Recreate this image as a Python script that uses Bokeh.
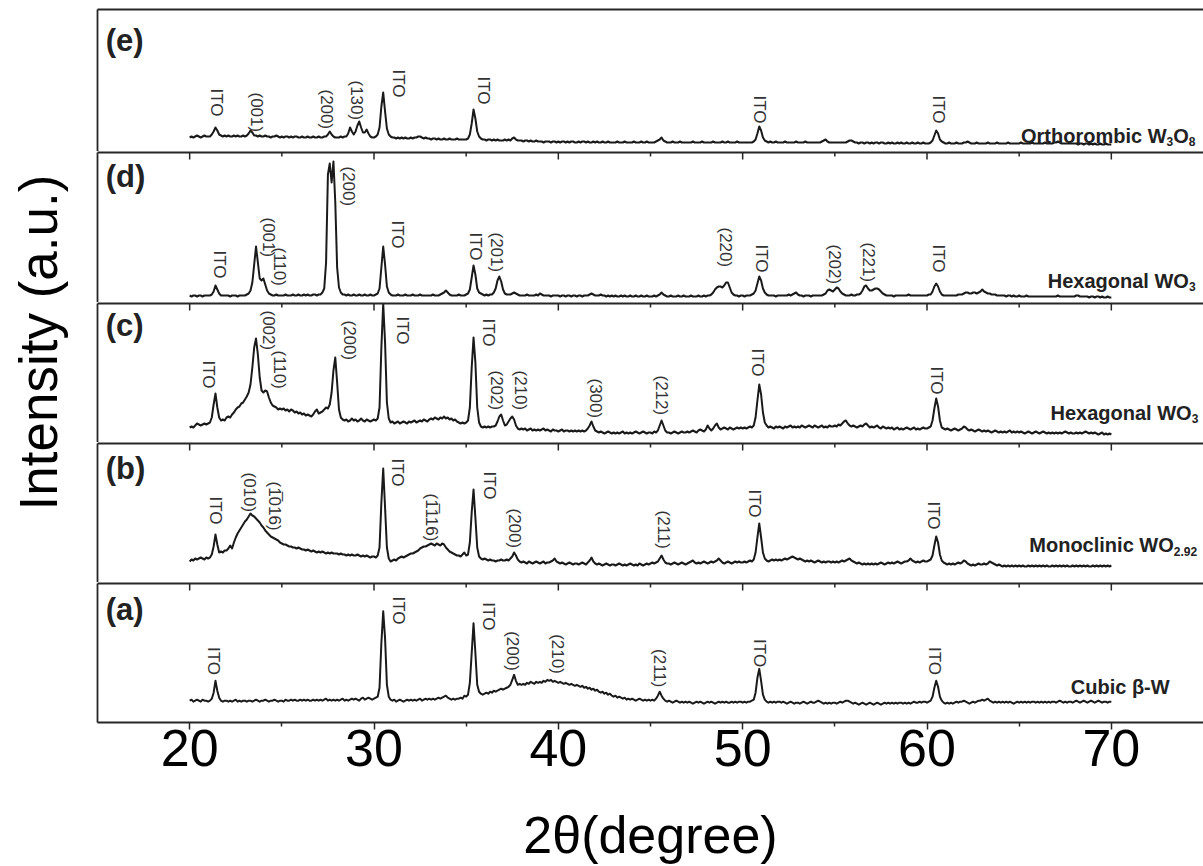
from math import pi
import numpy as np
from bokeh.plotting import figure
from bokeh.layouts import row, column
from bokeh.models import Range1d, FixedTicker, LinearAxis, ColumnDataSource
from bokeh.core.properties import value
from bokeh.embed import file_html
from bokeh.resources import INLINE

# ------------------------------------------------------------------ data
# diffractometer scan grid: 20.0 .. 70.0 deg, 0.1 deg step
two_theta = np.round(np.arange(20.0, 70.05, 0.1), 1)

# intensities (a.u.; one row = 1 degree)
int_e = [
    14, 15, 14, 15, 16, 15, 14, 15, 16, 15,
    15, 15, 17, 20, 24, 21, 17, 16, 15, 16,
    15, 16, 15, 15, 16, 15, 16, 15, 15, 16,
    15, 16, 18, 21, 19, 16, 16, 15, 16, 15,
    15, 16, 15, 15, 14, 15, 15, 16, 15, 14,
    15, 14, 15, 15, 14, 15, 14, 15, 15, 14,
    14, 15, 14, 14, 15, 14, 14, 15, 14, 14,
    15, 14, 14, 15, 15, 17, 20, 17, 15, 14,
    14, 14, 15, 14, 15, 15, 18, 24, 20, 17,
    20, 26, 30, 24, 19, 19, 22, 18, 15, 14,
    14, 15, 17, 24, 45, 59, 40, 23, 17, 15,
    14, 14, 13, 14, 13, 14, 13, 14, 13, 13,
    14, 13, 14, 14, 15, 15, 14, 13, 14, 13,
    13, 12, 13, 13, 12, 13, 12, 12, 13, 12,
    12, 13, 12, 12, 12, 13, 12, 12, 12, 12,
    12, 13, 17, 28, 42, 33, 20, 15, 13, 12,
    12, 11, 12, 12, 11, 12, 11, 12, 11, 11,
    11, 12, 11, 12, 11, 13, 14, 12, 11, 11,
    11, 10, 11, 11, 10, 11, 10, 10, 11, 10,
    10, 10, 9, 10, 10, 10, 9, 10, 10, 9,
    10, 9, 10, 10, 9, 10, 9, 10, 10, 9,
    9, 10, 9, 10, 10, 9, 10, 9, 9, 10,
    9, 10, 9, 9, 10, 9, 9, 10, 9, 9,
    9, 9, 10, 9, 9, 9, 10, 9, 9, 9,
    9, 10, 9, 9, 9, 10, 9, 9, 10, 9,
    9, 9, 9, 10, 11, 12, 14, 11, 10, 9,
    9, 9, 10, 9, 9, 9, 10, 9, 9, 9,
    9, 9, 9, 10, 9, 9, 9, 9, 10, 9,
    9, 9, 9, 9, 10, 9, 9, 9, 9, 10,
    9, 9, 10, 9, 9, 9, 9, 10, 9, 9,
    9, 9, 9, 9, 9, 9, 10, 12, 18, 25,
    21, 14, 11, 10, 9, 10, 9, 9, 10, 9,
    9, 9, 9, 10, 9, 9, 9, 9, 9, 10,
    9, 9, 9, 9, 10, 9, 9, 9, 9, 9,
    9, 9, 9, 10, 11, 12, 10, 9, 9, 9,
    9, 9, 9, 9, 9, 9, 9, 10, 11, 11,
    10, 9, 9, 8, 9, 9, 8, 9, 9, 8,
    9, 8, 9, 9, 8, 9, 9, 8, 8, 9,
    8, 9, 8, 8, 9, 8, 9, 8, 8, 9,
    8, 8, 9, 8, 8, 9, 8, 8, 9, 8,
    8, 8, 9, 11, 16, 21, 18, 12, 10, 9,
    8, 8, 9, 8, 8, 8, 9, 8, 8, 8,
    9, 9, 10, 9, 8, 8, 8, 9, 8, 8,
    8, 8, 8, 9, 8, 8, 8, 8, 9, 8,
    8, 8, 8, 8, 9, 8, 8, 8, 8, 8,
    8, 9, 8, 8, 8, 8, 8, 9, 8, 8,
    8, 8, 8, 8, 9, 8, 8, 8, 8, 9,
    9, 10, 9, 8, 8, 8, 8, 8, 8, 8,
    8, 8, 7, 8, 8, 7, 8, 8, 7, 8,
    7, 8, 7, 7, 8, 7, 7, 8, 7, 7,
    7,
]

int_d = [
    7, 6, 7, 7, 6, 7, 7, 6, 7, 7,
    7, 7, 8, 11, 17, 13, 9, 7, 7, 7,
    7, 7, 6, 7, 7, 7, 6, 7, 7, 7,
    7, 8, 9, 12, 20, 38, 56, 40, 24, 22,
    24, 18, 12, 9, 8, 7, 7, 8, 7, 7,
    7, 7, 8, 7, 7, 7, 8, 7, 7, 8,
    7, 7, 8, 7, 8, 7, 7, 8, 8, 7,
    8, 8, 10, 14, 40, 128, 139, 120, 141, 100,
    35, 15, 10, 8, 8, 7, 8, 7, 7, 8,
    7, 7, 8, 7, 7, 8, 7, 7, 8, 7,
    7, 8, 9, 14, 35, 56, 38, 16, 10, 8,
    7, 7, 7, 8, 7, 7, 7, 8, 7, 7,
    7, 8, 7, 7, 7, 8, 7, 7, 7, 7,
    7, 7, 8, 7, 7, 7, 8, 9, 10, 12,
    10, 8, 7, 7, 7, 7, 8, 7, 7, 7,
    8, 9, 13, 25, 37, 28, 14, 10, 9, 8,
    7, 8, 7, 8, 8, 10, 14, 22, 26, 21,
    13, 9, 8, 8, 8, 9, 10, 9, 8, 7,
    7, 7, 7, 8, 7, 7, 7, 7, 8, 7,
    9, 8, 7, 7, 7, 7, 6, 7, 7, 7,
    7, 6, 7, 7, 6, 7, 7, 6, 7, 7,
    6, 7, 7, 6, 7, 7, 7, 8, 9, 8,
    7, 7, 7, 8, 7, 7, 6, 7, 6, 7,
    6, 7, 6, 6, 7, 6, 7, 6, 6, 7,
    6, 6, 7, 6, 6, 7, 6, 6, 7, 6,
    6, 6, 7, 6, 7, 8, 10, 8, 7, 6,
    6, 7, 6, 6, 6, 7, 6, 6, 7, 6,
    6, 6, 7, 6, 6, 6, 7, 6, 6, 7,
    6, 7, 7, 8, 10, 13, 15, 16, 16, 15,
    17, 20, 20, 15, 10, 8, 7, 7, 6, 7,
    7, 6, 7, 7, 7, 8, 9, 12, 19, 26,
    22, 14, 10, 8, 7, 7, 7, 7, 6, 7,
    7, 7, 7, 7, 7, 8, 7, 8, 9, 10,
    8, 7, 7, 6, 7, 7, 7, 6, 7, 7,
    7, 7, 7, 7, 8, 9, 12, 13, 12, 11,
    13, 15, 14, 11, 9, 8, 7, 7, 7, 8,
    7, 7, 8, 8, 9, 12, 16, 17, 14, 12,
    12, 13, 14, 14, 13, 11, 9, 8, 7, 7,
    7, 7, 6, 7, 7, 7, 7, 7, 7, 7,
    8, 7, 7, 7, 7, 7, 7, 7, 7, 7,
    7, 8, 8, 11, 16, 19, 16, 11, 8, 7,
    7, 7, 7, 7, 7, 7, 7, 8, 8, 8,
    9, 10, 10, 9, 9, 10, 10, 9, 10, 11,
    13, 11, 10, 9, 9, 8, 8, 8, 7, 7,
    7, 7, 7, 6, 7, 7, 6, 7, 6, 6,
    7, 6, 6, 6, 7, 6, 6, 6, 6, 6,
    6, 6, 6, 6, 6, 6, 6, 6, 6, 6,
    6, 7, 6, 6, 6, 6, 6, 6, 6, 6,
    6, 7, 7, 6, 6, 6, 6, 6, 5, 6,
    6, 5, 6, 6, 5, 6, 5, 5, 6, 5,
    5,
]

int_c = [
    15, 16, 15, 17, 19, 18, 17, 18, 19, 18,
    19, 20, 25, 38, 49, 35, 25, 22, 23, 22,
    25, 26, 25, 28, 30, 33, 35, 36, 39, 40,
    43, 46, 50, 58, 75, 95, 104, 88, 65, 52,
    50, 52, 51, 45, 40, 37, 36, 35, 33, 34,
    33, 34, 32, 33, 31, 33, 32, 30, 31, 29,
    30, 28, 29, 27, 28, 27, 26, 28, 31, 33,
    29, 30, 31, 33, 35, 34, 38, 50, 72, 85,
    60, 33, 25, 23, 22, 23, 21, 22, 24, 22,
    23, 21, 22, 24, 22, 21, 23, 22, 21, 22,
    23, 22, 24, 35, 95, 139, 100, 40, 24, 20,
    21, 19, 20, 21, 19, 20, 21, 20, 19, 21,
    20, 21, 22, 20, 21, 22, 21, 23, 22, 21,
    23, 24, 23, 25, 24, 23, 25, 24, 26, 24,
    25, 23, 24, 22, 23, 21, 20, 19, 20, 19,
    20, 22, 35, 75, 105, 80, 35, 20, 16, 15,
    16, 15, 16, 15, 16, 16, 17, 21, 26, 28,
    22, 17, 18, 21, 24, 26, 23, 17, 14, 13,
    14, 13, 14, 12, 13, 14, 12, 13, 12, 13,
    12, 13, 14, 12, 13, 12, 11, 13, 12, 12,
    11, 12, 13, 11, 12, 12, 11, 12, 11, 12,
    11, 12, 11, 12, 11, 12, 14, 17, 21, 16,
    12, 11, 10, 11, 10, 9, 10, 11, 10, 9,
    10, 9, 10, 9, 10, 11, 9, 10, 9, 10,
    9, 10, 11, 10, 9, 10, 11, 10, 9, 10,
    10, 9, 11, 10, 12, 17, 22, 17, 12, 10,
    10, 9, 10, 11, 10, 9, 10, 11, 10, 10,
    11, 10, 11, 12, 11, 10, 12, 13, 12, 11,
    13, 17, 14, 12, 14, 17, 19, 15, 13, 14,
    15, 14, 13, 15, 14, 13, 14, 15, 14, 15,
    14, 15, 14, 15, 16, 15, 17, 25, 42, 58,
    48, 30, 20, 17, 15, 16, 15, 14, 16, 15,
    16, 15, 14, 16, 15, 16, 17, 15, 16, 15,
    16, 15, 17, 16, 15, 16, 17, 16, 15, 17,
    16, 15, 16, 17, 15, 16, 15, 17, 16, 16,
    17, 16, 18, 17, 19, 21, 22, 19, 17, 16,
    17, 16, 15, 16, 17, 16, 18, 19, 17, 15,
    16, 15, 16, 17, 15, 14, 16, 15, 14, 15,
    14, 15, 13, 14, 15, 13, 14, 13, 14, 15,
    14, 13, 14, 15, 13, 14, 13, 14, 15, 14,
    14, 15, 16, 22, 34, 44, 36, 22, 15, 14,
    13, 14, 13, 12, 13, 14, 13, 12, 13, 14,
    16, 15, 13, 12, 13, 12, 11, 12, 13, 12,
    11, 12, 11, 12, 11, 10, 11, 12, 11, 10,
    11, 10, 11, 10, 11, 12, 10, 11, 10, 11,
    10, 11, 10, 9, 10, 11, 10, 9, 10, 11,
    10, 9, 10, 11, 10, 9, 10, 9, 10, 9,
    10, 9, 10, 9, 10, 11, 10, 9, 10, 9,
    9, 10, 9, 10, 9, 10, 11, 10, 9, 10,
    9, 10, 9, 8, 9, 10, 8, 9, 8, 9,
    8,
]

int_b = [
    21, 23, 22, 24, 23, 24, 25, 24, 23, 25,
    24, 25, 28, 36, 48, 38, 30, 31, 30, 32,
    32, 34, 37, 34, 40, 45, 49, 52, 55, 58,
    61, 63, 66, 69, 67, 66, 64, 62, 60, 57,
    55, 52, 50, 48, 46, 45, 44, 43, 42, 40,
    39, 38, 38, 37, 36, 36, 35, 35, 34, 35,
    34, 33, 33, 32, 33, 32, 31, 32, 31, 30,
    31, 30, 31, 30, 29, 30, 29, 30, 29, 29,
    29, 28, 29, 28, 28, 27, 28, 27, 28, 27,
    27, 28, 27, 26, 27, 26, 27, 26, 25, 26,
    26, 25, 27, 35, 80, 114, 75, 35, 24, 21,
    22, 23, 22, 24, 25, 26, 25, 26, 27, 28,
    29, 29, 30, 31, 32, 34, 35, 36, 36, 37,
    38, 39, 38, 37, 39, 38, 37, 39, 38, 35,
    33, 31, 30, 29, 28, 27, 27, 26, 28, 30,
    27, 28, 40, 70, 93, 65, 35, 26, 24, 23,
    24, 23, 22, 23, 22, 22, 21, 22, 22, 23,
    22, 22, 23, 22, 24, 26, 30, 27, 23, 21,
    20, 21, 20, 19, 21, 20, 19, 20, 21, 20,
    19, 20, 21, 19, 20, 20, 21, 22, 24, 21,
    20, 19, 20, 19, 18, 19, 20, 19, 18, 19,
    19, 18, 19, 20, 19, 18, 20, 22, 25, 21,
    19, 18, 19, 18, 17, 18, 19, 18, 17, 18,
    18, 17, 18, 19, 18, 17, 18, 17, 18, 19,
    18, 17, 18, 17, 19, 18, 17, 18, 19, 18,
    19, 20, 19, 20, 21, 24, 27, 23, 20, 19,
    19, 18, 19, 20, 19, 18, 19, 20, 19, 18,
    19, 20, 21, 22, 20, 19, 20, 19, 20, 21,
    20, 19, 20, 21, 20, 21, 22, 24, 22, 20,
    19, 20, 21, 20, 19, 20, 21, 20, 21, 20,
    20, 21, 20, 21, 22, 21, 23, 30, 45, 59,
    45, 30, 24, 22, 21, 22, 23, 22, 23, 22,
    23, 22, 23, 24, 23, 24, 25, 26, 25, 24,
    23, 24, 23, 22, 21, 22, 21, 22, 21, 20,
    21, 22, 21, 20, 21, 20, 21, 21, 20, 21,
    20, 21, 20, 21, 22, 21, 22, 23, 24, 22,
    21, 20, 19, 20, 19, 18, 19, 18, 19, 18,
    19, 18, 19, 18, 19, 20, 19, 18, 19, 20,
    19, 20, 19, 20, 21, 20, 19, 20, 21, 21,
    22, 24, 22, 21, 20, 21, 20, 21, 22, 21,
    21, 22, 23, 27, 37, 46, 40, 28, 22, 20,
    19, 18, 19, 18, 19, 18, 19, 20, 19, 20,
    22, 21, 19, 18, 17, 18, 17, 18, 19, 18,
    18, 19, 18, 19, 21, 20, 19, 18, 17, 18,
    17, 16, 17, 16, 17, 16, 17, 16, 17, 16,
    17, 16, 17, 16, 16, 17, 16, 17, 16, 17,
    16, 17, 16, 17, 16, 17, 16, 16, 17, 16,
    17, 16, 17, 16, 17, 16, 17, 16, 16, 17,
    16, 17, 16, 17, 16, 17, 16, 17, 16, 16,
    17, 16, 17, 16, 17, 16, 17, 16, 17, 16,
    17,
]

int_a = [
    22, 23, 21, 22, 23, 22, 21, 23, 22, 22,
    21, 22, 24, 30, 42, 32, 25, 22, 21, 22,
    22, 21, 22, 21, 22, 23, 21, 22, 21, 22,
    22, 21, 22, 22, 21, 22, 23, 22, 21, 22,
    22, 23, 22, 21, 22, 22, 23, 22, 21, 22,
    22, 21, 23, 22, 22, 23, 22, 23, 22, 22,
    23, 22, 23, 22, 23, 22, 22, 23, 22, 23,
    22, 23, 22, 23, 24, 22, 23, 22, 23, 22,
    23, 22, 23, 24, 22, 23, 22, 23, 24, 23,
    24, 23, 22, 24, 25, 23, 24, 25, 24, 23,
    24, 25, 26, 35, 80, 112, 85, 38, 26, 23,
    22, 23, 21, 22, 23, 22, 21, 22, 23, 22,
    23, 22, 23, 22, 23, 24, 22, 23, 24, 23,
    24, 23, 24, 23, 24, 25, 24, 25, 26, 27,
    25, 24, 23, 24, 23, 24, 24, 25, 24, 27,
    26, 28, 40, 70, 100, 70, 38, 31, 29, 28,
    29, 30, 29, 31, 30, 32, 31, 32, 33, 34,
    33, 34, 35, 36, 38, 43, 48, 42, 38, 39,
    38, 39, 38, 40, 39, 41, 40, 39, 41, 40,
    41, 40, 42, 41, 43, 42, 43, 41, 42, 41,
    40, 41, 40, 39, 40, 39, 38, 39, 38, 37,
    38, 37, 36, 37, 35, 36, 34, 35, 33, 34,
    32, 33, 31, 30, 31, 29, 30, 28, 29, 27,
    26, 27, 25, 26, 25, 24, 25, 23, 24, 23,
    24, 23, 22, 23, 24, 23, 22, 23, 22, 23,
    22, 23, 22, 24, 27, 31, 27, 24, 22, 21,
    22, 21, 20, 21, 22, 21, 20, 21, 20, 21,
    20, 21, 20, 19, 20, 21, 20, 21, 20, 19,
    20, 21, 20, 21, 20, 19, 20, 21, 20, 21,
    20, 21, 20, 20, 21, 20, 21, 20, 21, 21,
    20, 21, 20, 21, 21, 22, 23, 30, 45, 54,
    42, 28, 23, 21, 20, 21, 20, 21, 20, 21,
    21, 20, 21, 20, 19, 20, 21, 20, 19, 20,
    20, 19, 20, 21, 20, 19, 20, 21, 20, 20,
    21, 22, 21, 20, 19, 20, 19, 20, 19, 20,
    20, 19, 20, 21, 20, 21, 22, 22, 21, 20,
    19, 20, 19, 18, 19, 20, 19, 18, 19, 20,
    19, 18, 19, 20, 19, 18, 19, 20, 19, 20,
    19, 20, 19, 20, 19, 20, 20, 19, 20, 19,
    20, 19, 20, 21, 20, 20, 21, 20, 21, 21,
    20, 21, 22, 26, 35, 42, 36, 26, 22, 20,
    19, 20, 19, 20, 19, 20, 21, 20, 21, 21,
    22, 21, 20, 19, 20, 21, 20, 21, 22, 22,
    23, 22, 23, 24, 22, 21, 20, 21, 20, 21,
    20, 21, 20, 21, 20, 21, 20, 19, 20, 21,
    20, 21, 20, 21, 20, 21, 20, 21, 21, 20,
    21, 20, 21, 20, 21, 20, 21, 20, 21, 21,
    20, 21, 22, 21, 20, 21, 20, 21, 21, 20,
    21, 22, 21, 20, 21, 22, 21, 20, 21, 22,
    21, 20, 21, 22, 21, 20, 21, 21, 20, 21,
    21,
]

x_ticks = [20, 30, 40, 50, 60, 70]
x_minor_ticks = [25, 35, 45, 55, 65]
x_axis_title = "2θ(degree)"
y_axis_title = "Intensity (a.u.)"

panel_tags = ["(e)", "(d)", "(c)", "(b)", "(a)"]

# phase names: (text, is_subscript)
phase_e = [("Orthorombic W", False), ("3", True), ("O", False), ("8", True)]
phase_d = [("Hexagonal WO", False), ("3", True)]
phase_c = [("Hexagonal WO", False), ("3", True)]
phase_b = [("Monoclinic WO", False), ("2.92", True)]
phase_a = [("Cubic β-W", False)]

# peak annotations: label, 2theta of label, top of label (a.u.)
e_peaks = ["ITO", "(001)", "(200)", "(130)", "ITO", "ITO", "ITO", "ITO"]
e_peak_x = [21.43, 23.65, 27.43, 29.03, 31.35, 35.94, 50.92, 60.62]
e_peak_top = [63, 59, 62, 71, 82, 75, 56, 56]

d_peaks = ["ITO", "(001)", "(110)", "(200)", "ITO", "ITO", "(201)", "(220)", "ITO", "(202)", "(221)", "ITO"]
d_peak_x = [21.62, 24.3, 24.9, 28.6, 31.3, 35.5, 36.67, 49.08, 51.02, 55.0, 56.84, 60.62]
d_peak_top = [52, 85, 55, 136, 82, 70, 70, 75, 58, 58, 60, 58]

c_peaks = ["ITO", "(002)", "(110)", "(200)", "ITO", "ITO", "(202)", "(210)", "(300)", "(212)", "ITO", "ITO"]
c_peak_x = [21.0, 24.3, 24.87, 28.65, 31.52, 36.2, 36.67, 37.93, 42.0, 45.58, 50.82, 60.53]
c_peak_top = [82, 132, 92, 122, 126, 124, 72, 72, 64, 67, 94, 76]

b_peaks = ["ITO", "(010)", "(1\u0305016)", "ITO", "(1\u0305116)", "ITO", "(200)", "(211)", "ITO", "ITO"]
b_peak_x = [21.39, 23.23, 24.58, 31.3, 33.1, 36.24, 37.64, 45.68, 50.63, 60.33]
b_peak_top = [86, 110, 101, 124, 89, 111, 74, 72, 93, 81]

a_peaks = ["ITO", "ITO", "ITO", "(200)", "(210)", "(211)", "ITO", "ITO"]
a_peak_x = [21.3, 31.35, 36.2, 37.54, 39.96, 45.49, 50.92, 60.43]
a_peak_top = [76, 127, 121, 92, 89, 74, 84, 76]

# ------------------------------------------------------------------ layout / style
X_START, X_END = 15, 75
W_TOTAL, H_TOTAL = 1203, 866
LABEL_W = 85
PANEL_W = W_TOTAL - LABEL_W
LEFT_PAD = 12
PX_PER_DEG = (PANEL_W - LEFT_PAD) / (X_END - X_START)
MAJOR_TICK, MINOR_TICK = 7, 4

FONT = "Liberation Sans"
TRACE = "#1a1a1a"
FRAME = "#262626"
FRAME_W = 1.8
NOTE = "#333333"
PHASE_SIZE, SUB_SIZE = 20, 12

BOLD_W = {' ': 278, 'O': 778, 'r': 389, 't': 333, 'h': 611, 'o': 611, 'm': 889, 'b': 611,
          'i': 278, 'c': 556, 'W': 944, 'H': 722, 'e': 556, 'x': 556, 'a': 556, 'g': 611,
          'n': 611, 'l': 278, 'M': 833, 'C': 722, 'u': 611, 'β': 611, '-': 333, '.': 278}


def text_w(s, size):
    return sum(BOLD_W.get(ch, 556) for ch in s) / 1000.0 * size


x_range = Range1d(X_START, X_END)


def blank_axis():
    return LinearAxis(ticker=FixedTicker(ticks=[]), major_tick_in=0, major_tick_out=0,
                      minor_tick_in=0, minor_tick_out=0, major_label_standoff=0,
                      axis_line_color=FRAME, axis_line_width=FRAME_W)


def make_panel(y, tag, tag_y, phase, phase_x, phase_y, peaks, peak_x, peak_top,
               canvas_h, top_pad, bottom_pad, top_ticks, bottom_axis, phase_size=PHASE_SIZE):
    frame_h = canvas_h - top_pad - bottom_pad
    p = figure(width=PANEL_W, height=canvas_h, x_range=x_range, y_range=Range1d(0, frame_h),
               x_axis_location=None, y_axis_location=None, output_backend="svg",
               toolbar_location=None, min_border_left=LEFT_PAD, min_border_right=0,
               min_border_top=top_pad, min_border_bottom=bottom_pad, outline_line_color=None)
    p.xgrid.visible = False
    p.ygrid.visible = False
    p.add_layout(blank_axis(), "left")
    p.add_layout(blank_axis(), "above")
    if top_ticks:
        # tick marks hanging down from the panel's upper boundary
        p.segment(x0=x_ticks, x1=x_ticks, y0=[frame_h] * len(x_ticks),
                  y1=[frame_h - MAJOR_TICK] * len(x_ticks), line_color=FRAME, line_width=1.5)
        p.segment(x0=x_minor_ticks, x1=x_minor_ticks, y0=[frame_h] * len(x_minor_ticks),
                  y1=[frame_h - MINOR_TICK] * len(x_minor_ticks), line_color=FRAME, line_width=1.5)
    if bottom_axis:
        bot = LinearAxis(ticker=FixedTicker(ticks=x_ticks, minor_ticks=x_minor_ticks),
                         major_tick_in=0, major_tick_out=MAJOR_TICK, minor_tick_in=0,
                         minor_tick_out=MINOR_TICK,
                         major_tick_line_width=1.5, minor_tick_line_width=1.5,
                         major_tick_line_color=FRAME, minor_tick_line_color=FRAME,
                         axis_line_color=FRAME, axis_line_width=FRAME_W,
                         major_label_text_font=FONT, major_label_text_font_size="52px",
                         major_label_text_color="#000000", major_label_standoff=0,
                         axis_label=x_axis_title, axis_label_text_font=FONT,
                         axis_label_text_font_size="52px", axis_label_text_font_style="normal",
                         axis_label_text_color="#000000", axis_label_standoff=37)
        p.add_layout(bot, "below")

    p.line(two_theta, y, line_color=TRACE, line_width=2.0, line_join="round")

    src = ColumnDataSource(dict(x=peak_x, y=peak_top, t=peaks))
    p.text(x="x", y="y", text="t", source=src, angle=-pi / 2, text_align="left",
           text_baseline="middle", text_font=value(FONT), text_font_size="17px",
           text_color=NOTE)

    p.text(x=[15.45], y=[tag_y], text=[tag], text_align="left", text_baseline="top",
           text_font=value(FONT), text_font_size="31px", text_font_style="bold",
           text_color="#222222")

    mx, my, mt, sx, sy, st = [], [], [], [], [], []
    cur = 0.0
    for s, sub in phase:
        size = SUB_SIZE if sub else phase_size
        if sub:
            sx.append(phase_x + cur / PX_PER_DEG)
            sy.append(phase_y - 6)
            st.append(s)
        else:
            mx.append(phase_x + cur / PX_PER_DEG)
            my.append(phase_y)
            mt.append(s)
        cur += text_w(s, size)
    p.text(x=mx, y=my, text=mt, text_align="left", text_baseline="alphabetic",
           text_font=value(FONT), text_font_style="bold", text_font_size=f"{phase_size}px",
           text_color="#222222")
    if st:
        p.text(x=sx, y=sy, text=st, text_align="left", text_baseline="alphabetic",
               text_font=value(FONT), text_font_style="bold", text_font_size=f"{SUB_SIZE}px",
               text_color="#222222")
    return p


pe = make_panel(int_e, panel_tags[0], 129, phase_e, 65.1, 15.7, e_peaks, e_peak_x, e_peak_top,
                151, 9, 0, False, False)
pd_ = make_panel(int_d, panel_tags[1], 144, phase_d, 66.55, 21.7, d_peaks, d_peak_x, d_peak_top,
                 151, 1, 0, True, False)
pc = make_panel(int_c, panel_tags[2], 135, phase_c, 66.7, 29.7, c_peaks, c_peak_x, c_peak_top,
                140, 1, 0, True, False)
pb = make_panel(int_b, panel_tags[3], 132, phase_b, 65.55, 37.3, b_peaks, b_peak_x, b_peak_top,
                140, 1, 0, True, False)
pa = make_panel(int_a, panel_tags[4], 131, phase_a, 67.8, 35.7, a_peaks, a_peak_x, a_peak_top,
                284, 1, 143, True, True)

lab = figure(width=LABEL_W, height=H_TOTAL, x_range=Range1d(0, LABEL_W), y_range=Range1d(0, H_TOTAL),
             x_axis_location=None, y_axis_location=None, output_backend="svg",
             toolbar_location=None, min_border=0, outline_line_color=None)
lab.xgrid.visible = False
lab.ygrid.visible = False
lab.text(x=[38], y=[H_TOTAL - 342], text=[y_axis_title], angle=pi / 2, text_align="center",
         text_baseline="middle", text_font=value(FONT), text_font_size="53px", text_color="#000000")

layout = row(lab, column(pe, pd_, pc, pb, pa))

with open("out.html", "w") as f:
    f.write(file_html(layout, INLINE))
